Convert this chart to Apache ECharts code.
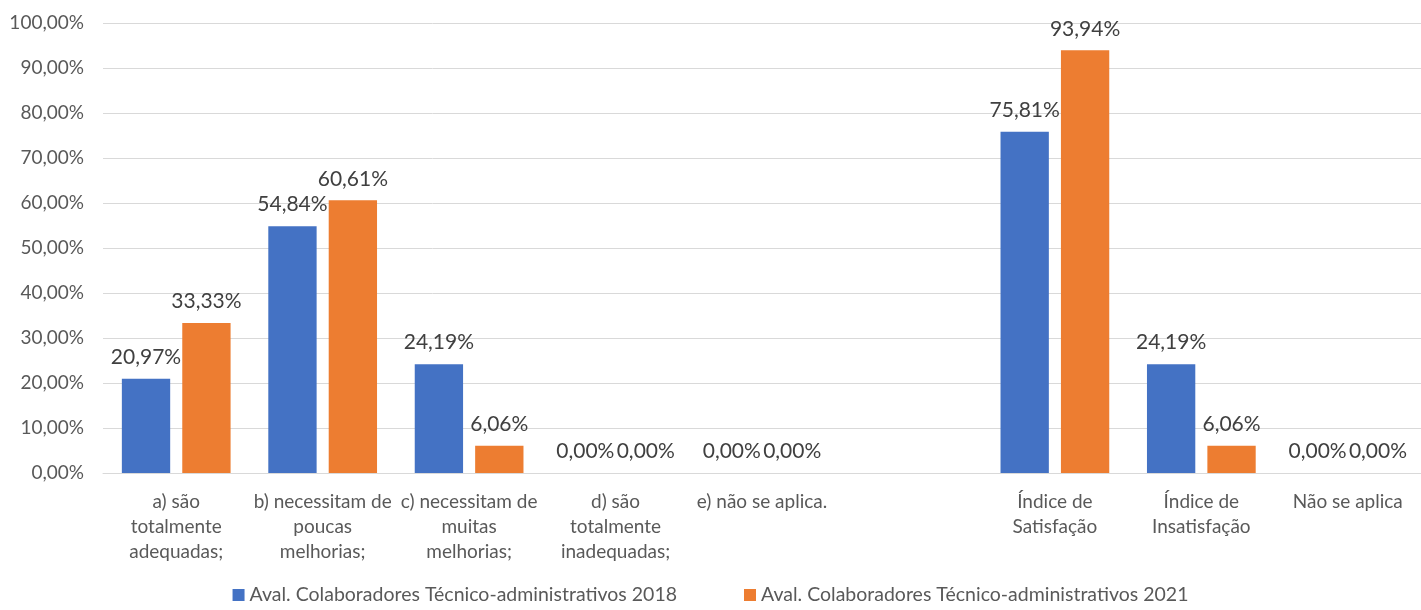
<!DOCTYPE html>
<html>
<head>
<meta charset="utf-8">
<script src="https://cdn.jsdelivr.net/npm/echarts@6/dist/echarts.min.js"></script>
<style>
  html, body { margin: 0; padding: 0; background: #fff; }
  #chart { width: 1421px; height: 610px; }
</style>
</head>
<body>
<div id="chart"></div>
<script>
// categorias (a vazia separa os dois grupos)
var categorias = [
    'a) são\ntotalmente\nadequadas;',
    'b) necessitam de\npoucas\nmelhorias;',
    'c) necessitam de\nmuitas\nmelhorias;',
    'd) são\ntotalmente\ninadequadas;',
    'e) não se aplica.',
    '',
    'Índice de\nSatisfação',
    'Índice de\nInsatisfação',
    'Não se aplica'
];
var aval2018 = [20.97, 54.84, 24.19, 0, 0, null, 75.81, 24.19, 0];
var aval2021 = [33.33, 60.61, 6.06, 0, 0, null, 93.94, 6.06, 0];
var nomes = [
    'Aval. Colaboradores Técnico-administrativos 2018',
    'Aval. Colaboradores Técnico-administrativos 2021'
];
var eixoY = [0, 100, 10];

var fonte = 'Lato';

function pct(v) {
    return v.toFixed(2).replace('.', ',') + '%';
}

var myChart = echarts.init(document.getElementById('chart'));

function serie(nome, dados, cor) {
    return {
        type: 'bar',
        name: nome,
        data: dados,
        barWidth: '33%',
        barGap: '25%',
        itemStyle: { color: cor },
        label: {
            show: true,
            position: 'top',
            distance: 11,
            color: '#404040',
            fontFamily: fonte,
            fontSize: 21,
            formatter: function (p) { return pct(p.value); }
        }
    };
}

myChart.setOption({
    animation: false,
    textStyle: { fontFamily: fonte },
    grid: { left: 103, right: 0, top: 23, bottom: 137 },
    legend: {
        bottom: 0,
        left: 'center',
        itemWidth: 12,
        itemHeight: 12,
        itemGap: 67,
        icon: 'rect',
        textStyle: { color: '#595959', fontFamily: fonte, fontSize: 19.5 },
        data: nomes
    },
    xAxis: {
        type: 'category',
        data: categorias,
        axisLine: { lineStyle: { color: '#d9d9d9' } },
        axisTick: { show: false },
        axisLabel: {
            interval: 0,
            color: '#595959',
            fontFamily: fonte,
            fontSize: 19,
            lineHeight: 25,
            margin: 16
        }
    },
    yAxis: {
        type: 'value',
        min: eixoY[0],
        max: eixoY[1],
        interval: eixoY[2],
        axisLine: { show: false },
        axisTick: { show: false },
        splitLine: { lineStyle: { color: '#d9d9d9' } },
        axisLabel: {
            color: '#595959',
            fontFamily: fonte,
            fontSize: 19,
            margin: 19,
            formatter: function (v) { return pct(v); }
        }
    },
    series: [
        serie(nomes[0], aval2018, '#4472c4'),
        serie(nomes[1], aval2021, '#ed7d31')
    ]
});
</script>
</body>
</html>
